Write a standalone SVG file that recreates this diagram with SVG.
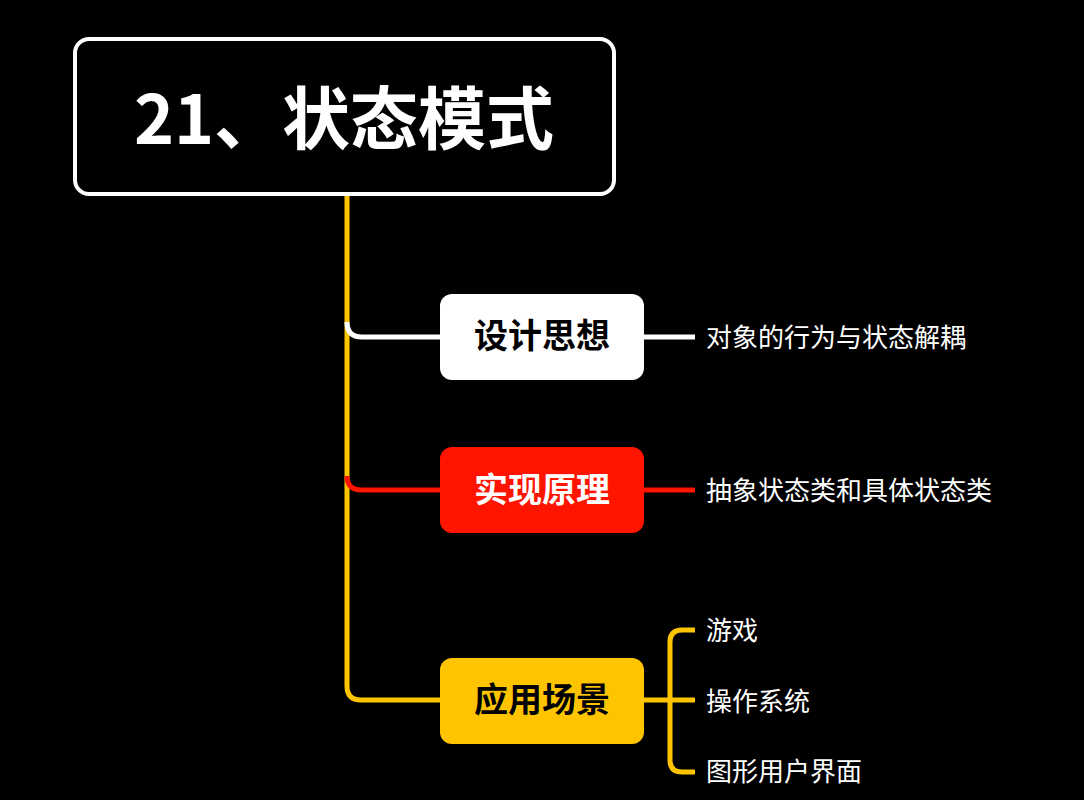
<svg xmlns="http://www.w3.org/2000/svg" width="1084" height="800" viewBox="0 0 1084 800">
<style>
.node text{font-family:"Noto Sans CJK SC","Noto Sans",sans-serif;font-weight:700;font-size:34px;text-anchor:middle;dominant-baseline:central}
.leaf{font-family:"Noto Sans CJK SC","Noto Sans",sans-serif;font-size:26px;fill:#fff;dominant-baseline:central}
.ln{fill:none;stroke-width:5;stroke-linecap:butt}
</style>
<rect width="1084" height="800" fill="#000"/>
<g id="connectors">
<path class="ln" d="M347 195 V686 Q347 700 361 700 H441" stroke="#FFC400"/>
<path class="ln" d="M347 322 Q347 337 362 337 H441" stroke="#fff"/>
<path class="ln" d="M347 476 Q347 490 362 490 H441" stroke="#FF1400"/>
<path class="ln" d="M643 337 H695" stroke="#fff"/>
<path class="ln" d="M643 490 H695" stroke="#FF1400"/>
<path class="ln" d="M643 700 H695 M695 630 H682 Q670 630 670 642 V760 Q670 772 682 772 H695" stroke="#FFC400"/>
</g>
<g id="title">
<rect x="75" y="39" width="539" height="155" rx="14" fill="#000" stroke="#fff" stroke-width="4"/>
<text x="344" y="114" font-family="'Noto Sans CJK SC','Noto Sans',sans-serif" font-weight="700" font-size="68" fill="#fff" text-anchor="middle" dominant-baseline="central">21、状态模式</text>
</g>
<g id="node-design" class="node">
<rect x="440" y="294" width="204" height="86" rx="12" fill="#fff"/>
<text x="542" y="333" fill="#000">设计思想</text>
</g>
<g id="node-impl" class="node">
<rect x="440" y="447" width="204" height="86" rx="12" fill="#FF1400"/>
<text x="542" y="487" fill="#fff">实现原理</text>
</g>
<g id="node-app" class="node">
<rect x="440" y="658" width="204" height="86" rx="12" fill="#FFC400"/>
<text x="542" y="697" fill="#000">应用场景</text>
</g>
<g id="leaf-design"><text class="leaf" x="706" y="335">对象的行为与状态解耦</text></g>
<g id="leaf-impl"><text class="leaf" x="706" y="488">抽象状态类和具体状态类</text></g>
<g id="leaf-game"><text class="leaf" x="706" y="628">游戏</text></g>
<g id="leaf-os"><text class="leaf" x="706" y="699">操作系统</text></g>
<g id="leaf-gui"><text class="leaf" x="706" y="769">图形用户界面</text></g>
</svg>
